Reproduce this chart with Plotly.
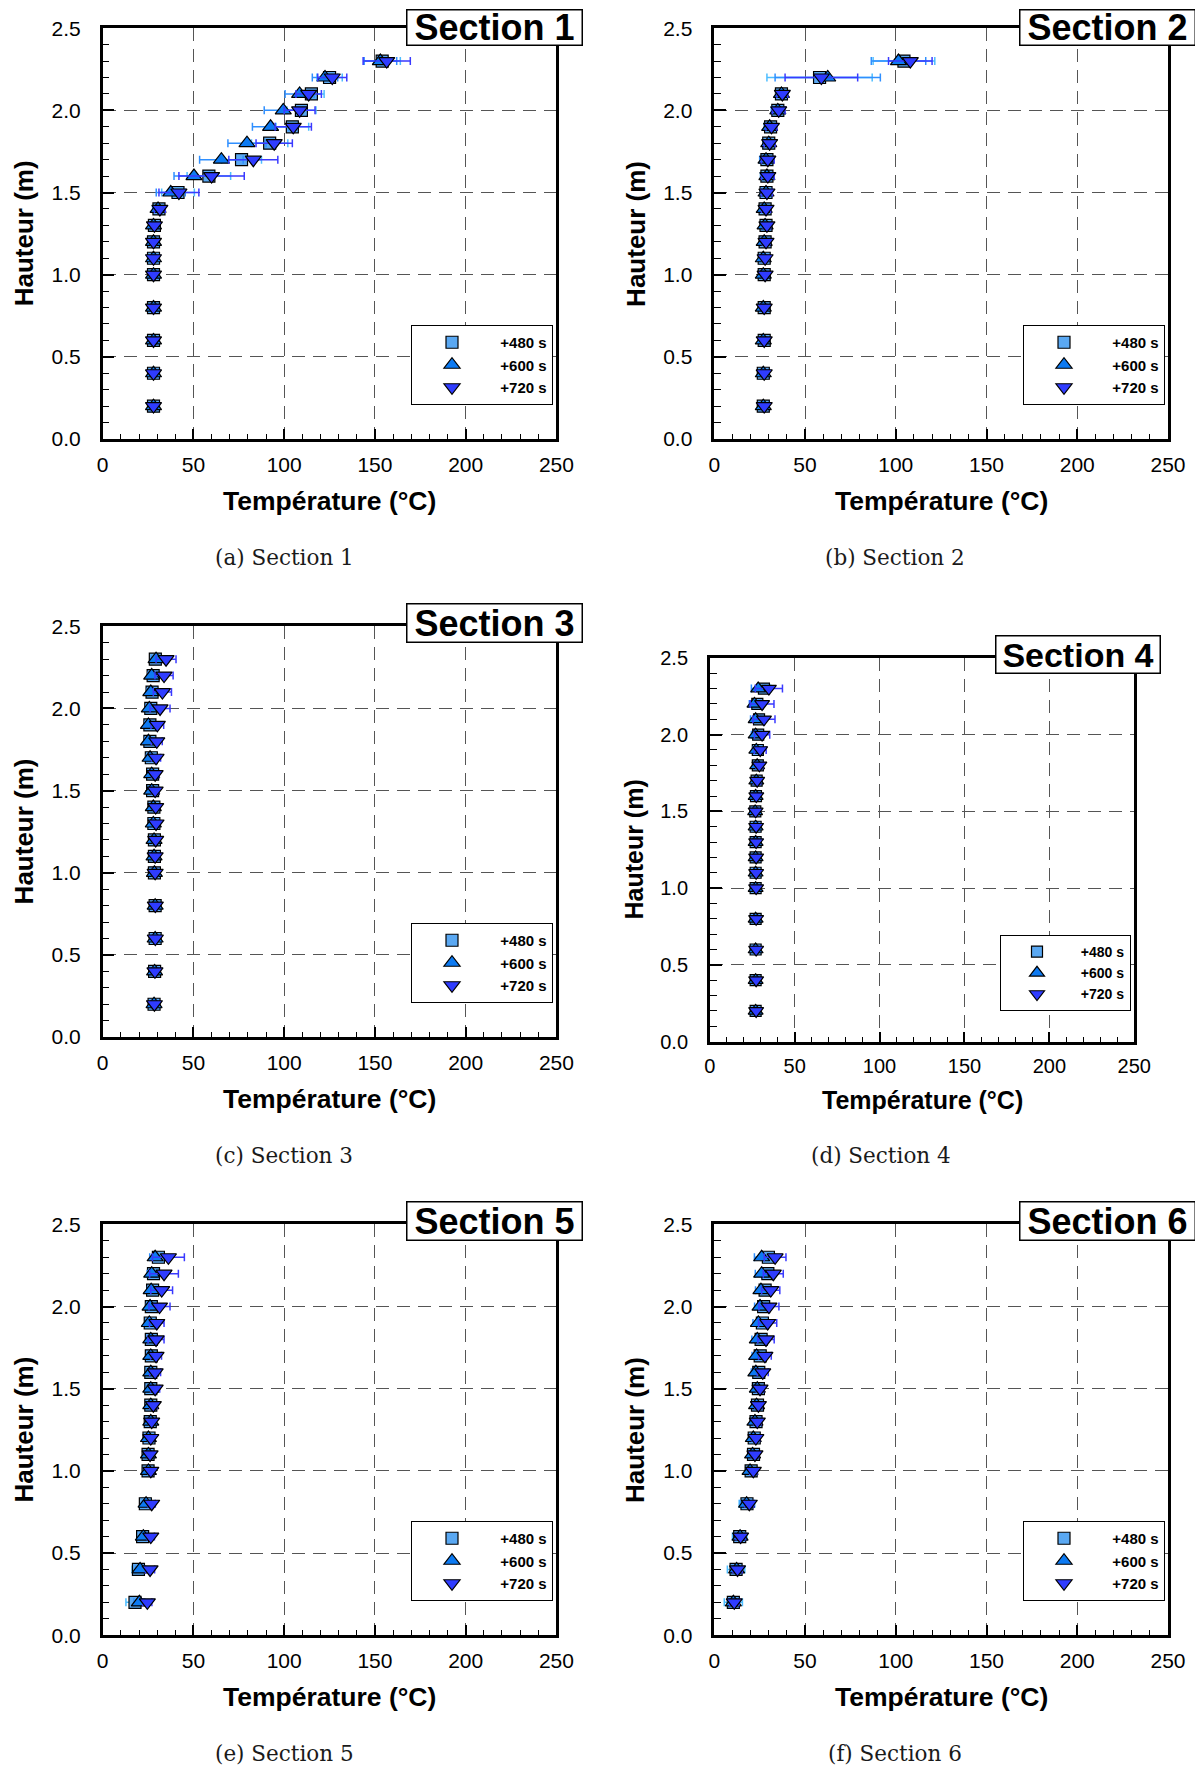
import plotly.graph_objects as go

W, H = 1203, 1769
OFF = 8  # page body margin offset
FW, FH = W - OFF, H - OFF

heights = [0.2, 0.4, 0.6, 0.8, 1.0, 1.1, 1.2, 1.3, 1.4, 1.5, 1.6, 1.7, 1.8, 1.9, 2.0, 2.1, 2.2, 2.3]
series_names = ["+480 s", "+600 s", "+720 s"]
section_titles = ["Section 1", "Section 2", "Section 3", "Section 4", "Section 5", "Section 6"]
captions = ["(a) Section 1", "(b) Section 2", "(c) Section 3", "(d) Section 4", "(e) Section 5", "(f) Section 6"]
x_ticks = [0, 50, 100, 150, 200, 250]
y_ticks = [0.0, 0.5, 1.0, 1.5, 2.0, 2.5]

# Section 1
s1_480 = [28, 28, 28, 28, 28, 28, 28, 28.5, 31, 41.5, 58.5, 76.5, 92, 104.5, 109.5, 115, 125, 154]
s1_600 = [28, 28, 28, 28, 28, 28, 28, 28, 30.5, 37.5, 50.3, 65.4, 79.5, 92.5, 99.5, 108.5, 122.5, 153]
s1_720 = [28, 28, 28, 28, 28, 28, 28, 28.5, 31.5, 42, 60, 83, 94.5, 105, 108.5, 113.5, 126.5, 156.5]
e1_480 = [1.5, 1.5, 1.5, 1.5, 1.5, 1.5, 1.5, 1.5, 3, 9, 12, 11, 10, 9, 8, 7, 7, 10]
e1_600 = [1.5, 1.5, 1.5, 1.5, 1.5, 1.5, 1.5, 1.5, 3, 8, 11, 12, 10.5, 10, 10.5, 8, 7, 9]
e1_720 = [1.5, 1.5, 1.5, 1.5, 1.5, 1.5, 1.5, 1.5, 3, 11, 18, 13.5, 10, 10, 8.5, 7, 8, 13]
# Section 2
s2_480 = [27, 27, 27.5, 27.5, 27.5, 27.5, 28, 28.5, 28, 28.5, 29, 29, 30, 31, 35, 37, 58, 104.5]
s2_600 = [27, 27, 27, 27, 27, 27, 27.5, 28, 27.5, 28.5, 29, 28.5, 30, 30.5, 35, 37, 62.5, 101.5]
s2_720 = [27.5, 27.5, 27.5, 27.5, 28, 28, 28.5, 29, 28.5, 29, 29.5, 29.5, 30.5, 31.5, 35.5, 37.5, 59, 108]
e2_480 = [1.5, 1.5, 1.5, 1.5, 1.5, 1.5, 2, 2, 2.5, 3, 3.5, 3.5, 3, 3, 3.5, 3, 29, 17]
e2_600 = [1.5, 1.5, 1.5, 1.5, 1.5, 1.5, 2, 2, 2.5, 3, 3.5, 3.5, 3, 3, 3.5, 3, 29, 15]
e2_720 = [1.5, 1.5, 1.5, 1.5, 1.5, 1.5, 2, 2, 2.5, 3, 3.5, 3.5, 3, 3, 3.5, 3, 20, 12]
# Section 3
s3_480 = [28.3, 28.6, 28.9, 28.9, 28.5, 28.5, 28.5, 28.2, 28.2, 27.5, 27.5, 26.8, 26, 26, 26.5, 27.2, 27.8, 29]
s3_600 = [28.3, 28.6, 28.9, 28.9, 28.5, 28.3, 28.3, 27.9, 27.9, 27, 27, 26.1, 25.2, 25.2, 25.7, 26.5, 27, 29.4]
s3_720 = [28.5, 28.8, 29, 29, 28.9, 28.9, 29.2, 29.4, 29.2, 28.9, 28.9, 29.4, 29.8, 30.1, 31.6, 32.9, 33.8, 34.9]
e3_480 = [1.5, 1.5, 1.5, 1.5, 1.5, 1.5, 1.5, 1.5, 1.5, 2, 2, 2, 2, 2, 2, 2, 2, 2.5]
e3_600 = [1.5, 1.5, 1.5, 1.5, 1.5, 1.5, 1.5, 1.5, 1.5, 2, 2, 2, 2, 2, 2, 2, 2, 2.5]
e3_720 = [1.5, 1.5, 1.5, 1.5, 1.5, 1.5, 1.5, 1.5, 1.5, 2, 2, 2.5, 3, 3.5, 5.5, 5, 5, 5.5]
# Section 4
s4_480 = [27, 27, 27, 27, 27, 27, 27, 27, 27, 26.8, 27.2, 27.6, 28.3, 28.3, 28.5, 29, 28, 31.9]
s4_600 = [27, 27, 27, 27, 27, 27, 27, 27, 27, 26.7, 27, 27.4, 27.9, 27.4, 27, 27, 26.3, 28.5]
s4_720 = [27.3, 27.3, 27.3, 27.3, 27.3, 27.3, 27.3, 27.3, 27.3, 27, 27.4, 27.9, 29.2, 29.7, 30.8, 31.9, 30.8, 34.8]
e4_480 = [1.2, 1.2, 1.2, 1.2, 1.2, 1.2, 1.2, 1.2, 1.2, 1.5, 1.5, 1.5, 2, 2, 2.5, 3, 3, 4]
e4_600 = [1.2, 1.2, 1.2, 1.2, 1.2, 1.2, 1.2, 1.2, 1.2, 1.5, 1.5, 1.5, 2, 2, 2.5, 3, 3, 4]
e4_720 = [1.2, 1.2, 1.2, 1.2, 1.2, 1.2, 1.2, 1.2, 1.2, 1.5, 1.5, 2, 2, 3.5, 4.5, 6.5, 7, 8]
# Section 5
s5_480 = [17.8, 19.7, 22, 23.5, 25, 25, 25.5, 26.2, 26.5, 26.5, 26.5, 26.8, 26.8, 26.2, 26.8, 27.5, 28, 30.7]
s5_600 = [20.2, 20.6, 22.4, 23.9, 25.2, 25.2, 25.2, 26.5, 26.5, 26.5, 26.5, 26.5, 26.5, 25.7, 26.1, 26.7, 27, 28.9]
s5_720 = [24.6, 26.1, 26.5, 27, 26.5, 26.1, 26.5, 27, 27.9, 28.9, 28.9, 29.4, 29.4, 29.8, 31.3, 32.5, 33.8, 36.2]
e5_480 = [5, 3.5, 2.5, 2, 1.5, 1.5, 1.5, 1.5, 2, 2, 2, 2, 2, 2, 2, 2, 2.5, 3]
e5_600 = [3, 2.5, 2, 2, 1.5, 1.5, 1.5, 1.5, 2, 2, 2, 2, 2, 2, 2, 2, 2.5, 3]
e5_720 = [2.5, 2.5, 2, 2, 1.5, 1.5, 1.5, 1.5, 2, 2.5, 3, 3, 4.4, 4, 5.8, 6, 7.9, 8.8]
# Section 6
s6_480 = [10.5, 12, 14, 18, 20.3, 21.6, 22, 23, 23.8, 24.3, 24.5, 25.3, 25.8, 26.5, 27.2, 28, 29.5, 29.8]
s6_600 = [10.5, 12.3, 14.2, 17.8, 19.7, 21.1, 21.5, 22.4, 23.3, 23.7, 22.9, 23.3, 23.7, 24.3, 25.2, 25.7, 26.1, 26.1]
s6_720 = [11, 12.8, 14.5, 19.3, 21.5, 22.4, 22.9, 23.7, 24.3, 25.2, 26.7, 27.9, 28.5, 29.4, 30.1, 31.1, 32.5, 33.5]
e6_480 = [5, 4.8, 4, 4.3, 2, 2, 2, 2, 2, 2, 2.5, 2.5, 3, 3, 3, 3, 3.5, 4]
e6_600 = [3, 3, 3, 3.5, 2, 2, 2, 2, 2, 2, 2.5, 2.5, 3, 3, 3, 3, 3.5, 4]
e6_720 = [2.5, 2.5, 2.5, 2.5, 2, 2, 2, 2, 2, 2, 3, 3.5, 4.5, 5, 5.5, 5, 5.5, 6]

values = [[s1_480, s1_600, s1_720], [s2_480, s2_600, s2_720], [s3_480, s3_600, s3_720],
          [s4_480, s4_600, s4_720], [s5_480, s5_600, s5_720], [s6_480, s6_600, s6_720]]
errors = [[e1_480, e1_600, e1_720], [e2_480, e2_600, e2_720], [e3_480, e3_600, e3_720],
          [e4_480, e4_600, e4_720], [e5_480, e5_600, e5_720], [e6_480, e6_600, e6_720]]

# style
symbols = ["square", "triangle-up", "triangle-down"]
fills = ["#5aa8f2", "#0d7af2", "#2f3cff"]
ecols = ["#4dbdff", "#2f8fff", "#3a3aff"]
msizes = [12, 14, 14]

# panel boxes in screen pixels: left, right, top, bottom
panels = [(102.7, 556.4, 28.2, 439.0), (714.3, 1168.0, 28.2, 439.0),
          (102.7, 556.4, 626.3, 1037.1), (709.8, 1134.2, 657.9, 1041.6),
          (102.7, 556.4, 1224.4, 1635.2), (714.3, 1168.0, 1224.4, 1635.2)]
title_boxes = [(495, 27.5, 172, 32), (1107, 27.5, 172, 32), (495, 623, 172, 35),
               (1077.5, 654.5, 161, 34), (495, 1221, 172, 35), (1107, 1221, 172, 35)]
legend_boxes = [(553, 325), (1165, 325), (553, 923), (1131, 935), (553, 1521), (1165, 1521)]
caption_pos = [(284, 557.5), (895, 557.5), (284, 1155.6), (881, 1155.6), (284, 1753.7), (895, 1753.7)]


def fx(p):
    return (p - OFF) / FW


def fy(p):
    return 1 - (p - OFF) / FH


FONT = "Liberation Sans"
fig = go.Figure()
annotations = []
layout = dict(width=FW, height=FH, margin=dict(l=0, r=0, t=0, b=0, pad=0, autoexpand=False),
              paper_bgcolor="white", plot_bgcolor="white", showlegend=True)

for i in range(6):
    n = "" if i == 0 else str(i + 1)
    xa, ya = "x" + n, "y" + n
    lg = "legend" + n
    small = (i == 3)
    for k in range(3):
        fig.add_trace(go.Scatter(
            x=values[i][k], y=heights, mode="markers",
            name="\u00a0" * 2 + "<b>" + series_names[k] + "</b>",
            xaxis=xa, yaxis=ya, legend=lg, showlegend=True,
            marker=dict(symbol=symbols[k], size=msizes[k] - (1 if small else 0), color=fills[k],
                        line=dict(color="black", width=1.2)),
            error_x=dict(type="data", array=errors[i][k], visible=True, color=ecols[k],
                         thickness=1.5, width=4),
        ))
    l, r, t, b = panels[i]
    tf = 20 if small else 21
    layout["xaxis" + n] = dict(
        domain=[fx(l), fx(r)], anchor=ya, range=[0, 250], tickvals=x_ticks, automargin=False,
        ticks="inside", ticklen=10, tickwidth=1.5, tickcolor="black",
        minor=dict(ticks="inside", ticklen=5, dtick=10, tickcolor="black", tickwidth=1, showgrid=False),
        showline=True, linecolor="black", linewidth=2.5, mirror=True,
        showgrid=True, gridcolor="#555555", gridwidth=1, griddash="13px,8px",
        zeroline=False, tickfont=dict(family=FONT, size=tf, color="black"),
        ticklabelstandoff=5)
    layout["yaxis" + n] = dict(
        domain=[fy(b), fy(t)], anchor=xa, range=[0, 2.5], tickvals=y_ticks, automargin=False,
        tickformat=".1f",
        ticks="inside", ticklen=12, tickwidth=2, tickcolor="black",
        minor=dict(ticks="inside", ticklen=7, dtick=0.1, tickcolor="black", tickwidth=1, showgrid=False),
        showline=True, linecolor="black", linewidth=2.5, mirror=True,
        showgrid=True, gridcolor="#555555", gridwidth=1, griddash="13px,8px",
        zeroline=False, tickfont=dict(family=FONT, size=tf, color="black"),
        ticklabelstandoff=15)
    lx, ly = legend_boxes[i]
    layout[lg] = dict(x=fx(lx), xanchor="right", y=fy(ly), yanchor="top",
                      bgcolor="white", bordercolor="black", borderwidth=1,
                      font=dict(family=FONT, size=14 if small else 15, color="black"),
                      itemwidth=70 if not small else 62, tracegroupgap=0)
    # section title box
    cx, cy, bw, bh = title_boxes[i]
    annotations.append(dict(xref="paper", yref="paper", x=fx(cx), y=fy(cy),
                            xanchor="center", yanchor="middle", showarrow=False,
                            text="<b>" + section_titles[i] + "</b>",
                            font=dict(family=FONT, size=34 if small else 36, color="black"),
                            bgcolor="white", bordercolor="black", borderwidth=1.5,
                            borderpad=1, width=bw, height=bh))
    # axis titles
    annotations.append(dict(xref="paper", yref="paper", x=fx((l + r) / 2),
                            y=fy(b + (58 if small else 62)),
                            xanchor="center", yanchor="middle", showarrow=False,
                            text="<b>Température (°C)</b>",
                            font=dict(family=FONT, size=25 if small else 26.5, color="black")))
    annotations.append(dict(xref="paper", yref="paper", x=fx(l - (76 if small else 79)),
                            y=fy((t + b) / 2),
                            xanchor="center", yanchor="middle", showarrow=False, textangle=-90,
                            text="<b>Hauteur (m)</b>",
                            font=dict(family=FONT, size=25 if small else 26, color="black")))
    px, py = caption_pos[i]
    annotations.append(dict(xref="paper", yref="paper", x=fx(px), y=fy(py),
                            xanchor="center", yanchor="middle", showarrow=False,
                            text=captions[i],
                            font=dict(family="DejaVu Serif", size=21.5, color="#1a1a1a")))

layout["annotations"] = annotations
fig.update_layout(**layout)
fig.write_html("out.html")
